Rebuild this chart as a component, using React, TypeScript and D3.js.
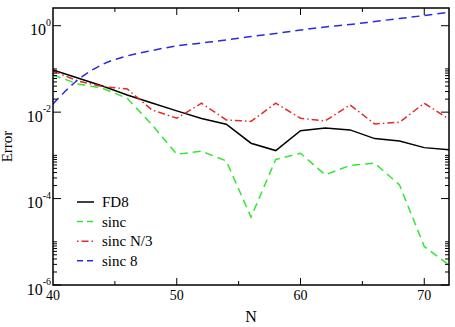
import React from "react";
import * as d3 from "d3";

// Grid size N and error of each scheme
const gridN = [40, 42, 44, 46, 48, 50, 52, 54, 56, 58, 60, 62, 64, 66, 68, 70, 72];
const errFD8 = [0.0946, 0.0618, 0.0403, 0.025, 0.0163, 0.0107, 0.00715, 0.00525, 0.00191, 0.00129, 0.00373, 0.00431, 0.00388, 0.00244, 0.00216, 0.00151, 0.00134];
const errSinc = [0.0725, 0.0449, 0.0357, 0.0209, 0.0051, 0.00106, 0.00125, 0.000744, 0.000037, 0.000806, 0.00112, 0.000353, 0.000586, 0.000658, 0.000207, 0.0000078, 0.0000029];
const errSincN3 = [0.0897, 0.0527, 0.0389, 0.0344, 0.01125, 0.00723, 0.0161, 0.00661, 0.0061, 0.0161, 0.00723, 0.00626, 0.0147, 0.00533, 0.00584, 0.0161, 0.00686];
const errSinc8 = [0.0155, 0.0555, 0.127, 0.2, 0.267, 0.34, 0.398, 0.467, 0.563, 0.66, 0.796, 0.933, 1.066, 1.25, 1.47, 1.72, 2.04];

const xMajor = [50, 60, 70];
const xMinor = [45, 55, 65];
const yMajorExp = [0, -2, -4, -6];
const legendLabels = ["FD8", "sinc", "sinc N/3", "sinc 8"];

const W = 455;
const H = 327;
const L = 53, R = 449, T = 8, B = 285;
const FONT = "Liberation Serif, Times New Roman, DejaVu Serif, serif";

const seriesList = [
  { values: errFD8, color: "#000000", dash: "none", smooth: false },
  { values: errSinc, color: "#33e633", dash: "8 5", smooth: false },
  { values: errSincN3, color: "#e52a2a", dash: "7 3 1.5 3", smooth: false },
  { values: errSinc8, color: "#2a2ae0", dash: "8 5", smooth: true },
];

export default function App() {
  const x = d3.scaleLinear().domain([40, 72]).range([L, R]);
  const y = d3.scaleLog().domain([1e-6, 2.57]).range([B, T]);

  const line = (vals: number[], smooth: boolean) =>
    d3
      .line<number>()
      .x((_, i) => x(gridN[i]))
      .y((v) => y(v))
      .curve(smooth ? d3.curveMonotoneX : d3.curveLinear)(vals) as string;

  // minor log ticks: 2..10 times each lower decade of a two-decade step
  const yMinor: number[] = [];
  [-6, -4, -2].forEach((e) => {
    for (let k = 2; k <= 10; k++) yMinor.push(k * Math.pow(10, e));
  });

  const txt = { fontFamily: FONT };

  return (
    <svg
      width={W}
      height={H}
      style={{ position: "absolute", left: 0, top: 0, background: "#fff", fontFamily: FONT }}
    >
      <defs>
        <clipPath id="plotArea">
          <rect x={L} y={T} width={R - L} height={B - T} />
        </clipPath>
      </defs>

      <g clipPath="url(#plotArea)" fill="none">
        {seriesList.map((s, i) => (
          <path
            key={i}
            d={line(s.values, s.smooth)}
            stroke={s.color}
            strokeWidth={1.5}
            strokeDasharray={s.dash}
          />
        ))}
      </g>

      {/* ticks on all four sides, pointing inward */}
      <g stroke="#000" strokeWidth={1}>
        {xMajor.map((v) => (
          <g key={"xM" + v}>
            <line x1={x(v)} x2={x(v)} y1={B} y2={B - 7} />
            <line x1={x(v)} x2={x(v)} y1={T} y2={T + 7} />
          </g>
        ))}
        {xMinor.map((v) => (
          <g key={"xm" + v}>
            <line x1={x(v)} x2={x(v)} y1={B} y2={B - 4} />
            <line x1={x(v)} x2={x(v)} y1={T} y2={T + 4} />
          </g>
        ))}
        {yMajorExp.map((e) => (
          <g key={"yM" + e}>
            <line x1={L} x2={L + 8} y1={y(Math.pow(10, e))} y2={y(Math.pow(10, e))} />
            <line x1={R} x2={R - 8} y1={y(Math.pow(10, e))} y2={y(Math.pow(10, e))} />
          </g>
        ))}
        {yMinor.map((v, i) => (
          <g key={"ym" + i}>
            <line x1={L} x2={L + 4} y1={y(v)} y2={y(v)} />
            <line x1={R} x2={R - 4} y1={y(v)} y2={y(v)} />
          </g>
        ))}
      </g>

      <rect x={L} y={T} width={R - L} height={B - T} fill="none" stroke="#000" strokeWidth={1.5} />

      {/* tick labels */}
      <g fill="#000">
        {[40, ...xMajor].map((v) => (
          <text key={"xl" + v} style={txt} fontSize={14} x={x(v)} y={B + 15} textAnchor="middle">
            {v}
          </text>
        ))}
        {yMajorExp.map((e) => (
          <text key={"yl" + e} style={txt} fontSize={16} x={L - 2} y={y(Math.pow(10, e)) + 9.5} textAnchor="end">
            10
            <tspan fontSize={10} dy={-9.5}>
              {e}
            </tspan>
          </text>
        ))}
      </g>

      {/* axis titles */}
      <text style={txt} x={(L + R) / 2} y={322} textAnchor="middle" fontSize={16}>
        N
      </text>
      <text
        style={txt}
        transform={`translate(12, ${(T + B) / 2}) rotate(-90)`}
        textAnchor="middle"
        fontSize={15}
      >
        Error
      </text>

      {/* legend */}
      <g fontSize={15}>
        {seriesList.map((s, i) => {
          const ly = 202 + i * 19.6;
          return (
            <g key={"lg" + i}>
              <line
                x1={77}
                x2={94}
                y1={ly}
                y2={ly}
                stroke={s.color}
                strokeWidth={1.5}
                strokeDasharray={i === 2 ? "1.5 3 7 3" : s.dash === "none" ? "none" : "6 4"}
              />
              <text style={txt} x={102} y={ly + 5}>
                {legendLabels[i]}
              </text>
            </g>
          );
        })}
      </g>
    </svg>
  );
}
